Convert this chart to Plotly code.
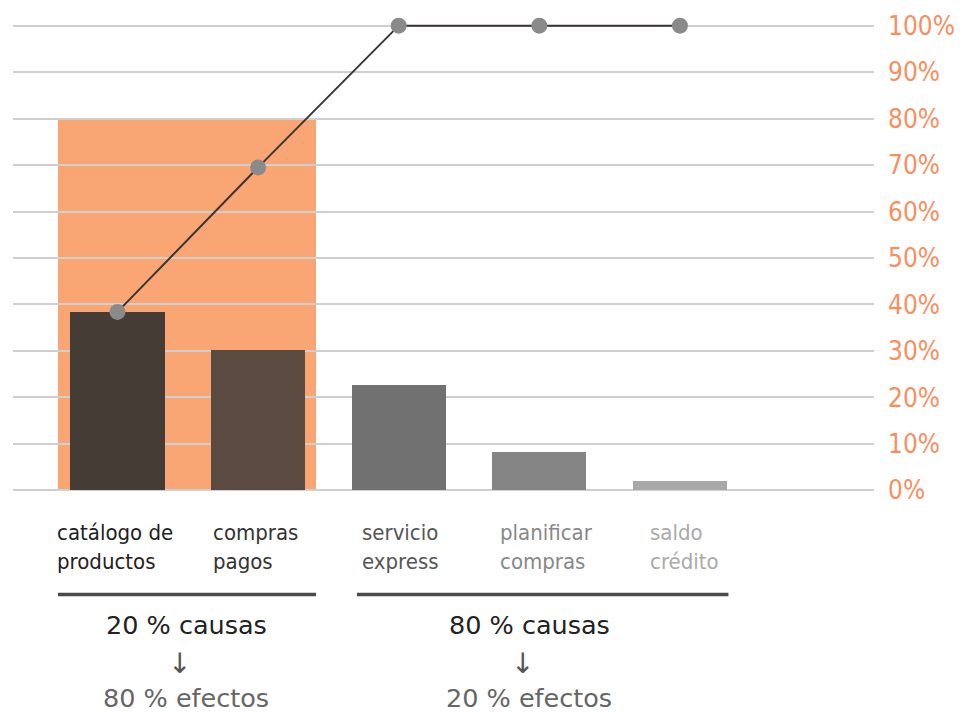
import plotly.graph_objects as go

categories = ["catálogo de<br>productos", "compras<br>pagos", "servicio<br>express",
              "planificar<br>compras", "saldo<br>crédito"]
bar_values = [38.4, 30.2, 22.6, 8.2, 2.0]
cumulative = [38.4, 69.5, 100, 100, 100]
bar_colors = ["#463c36", "#5b4a40", "#717171", "#858585", "#a8a8a8"]
label_colors = ["#222222", "#333333", "#555555", "#888888", "#aaaaaa"]
y_ticks = [0, 10, 20, 30, 40, 50, 60, 70, 80, 90, 100]
y_tick_text = ["0%", "10%", "20%", "30%", "40%", "50%", "60%", "70%", "80%", "90%", "100%"]
highlight_share = 80  # top 20% of causes -> 80% of effects
groups = [("20 % causas", "80 % efectos"), ("80 % causas", "20 % efectos")]

idx = list(range(len(categories)))
BW = 0.67
label_shift = [-0.11, 0.0, 0.06, 0.04, 0.11]
NARROW = "Liberation Sans Narrow, DejaVu Sans Condensed, Arial Narrow, sans-serif"
WIDE = "DejaVu Sans, Verdana, sans-serif"

fig = go.Figure()
fig.add_trace(go.Bar(x=idx, y=bar_values, width=BW, marker=dict(color=bar_colors, line=dict(width=0)),
                     hoverinfo="skip"))
fig.add_trace(go.Scatter(x=idx, y=cumulative, mode="lines+markers",
                         line=dict(color="#3a3532", width=2),
                         marker=dict(color="#8a8a8a", size=16),
                         cliponaxis=False, hoverinfo="skip"))

# highlighted area (80% effects)
fig.add_shape(type="rect", xref="x", yref="y", x0=-0.423, x1=1.412, y0=0, y1=highlight_share,
              fillcolor="#faa674", line=dict(width=0), layer="below")

# underlines
fig.add_shape(type="line", xref="x", yref="paper", x0=-0.423, x1=1.412, y0=-0.21, y1=-0.21,
              line=dict(color="#4a4a4a", width=3.5))
fig.add_shape(type="line", xref="x", yref="paper", x0=1.703, x1=4.345, y0=-0.21, y1=-0.21,
              line=dict(color="#4a4a4a", width=3.5))

annotations = []
for i, (c, col) in enumerate(zip(categories, label_colors)):
    annotations.append(dict(x=i - BW / 2 + label_shift[i], y=-0.049,
                            xref="x", yref="paper",
                            text=c, showarrow=False, xanchor="left", yanchor="top", align="left",
                            font=dict(family=NARROW, size=22, color=col)))

group_centers = [0.49, 2.93]
for (top, bottom), gx in zip(groups, group_centers):
    annotations.append(dict(x=gx, y=-0.275, xref="x", yref="paper", text=top, showarrow=False,
                            xanchor="center", yanchor="middle",
                            font=dict(family=WIDE, size=25.5, color="#222222")))
    annotations.append(dict(x=gx - 0.05, y=-0.355, xref="x", yref="paper", text="↓", showarrow=False,
                            xanchor="center", yanchor="middle",
                            font=dict(family=WIDE, size=28, color="#555555")))
    annotations.append(dict(x=gx, y=-0.428, xref="x", yref="paper", text=bottom, showarrow=False,
                            xanchor="center", yanchor="middle",
                            font=dict(family=WIDE, size=25.5, color="#666666")))

fig.update_layout(
    width=969, height=712,
    margin=dict(l=13, r=95, t=21, b=217),
    plot_bgcolor="white", paper_bgcolor="white",
    showlegend=False,
    bargap=0,
    annotations=annotations,
    xaxis=dict(range=[-0.743, 5.38], showticklabels=False, showgrid=False, zeroline=False,
               showline=False, fixedrange=True),
    yaxis=dict(range=[-1, 101], side="right", tickvals=y_ticks, ticktext=y_tick_text,
               showgrid=True, gridcolor="#cfcfcf", gridwidth=1.5, zeroline=False,
               showline=False, ticks="", ticklabelstandoff=13,
               tickfont=dict(family=NARROW, size=26, color="#f98e5e")),
)

fig.write_html("out.html")
